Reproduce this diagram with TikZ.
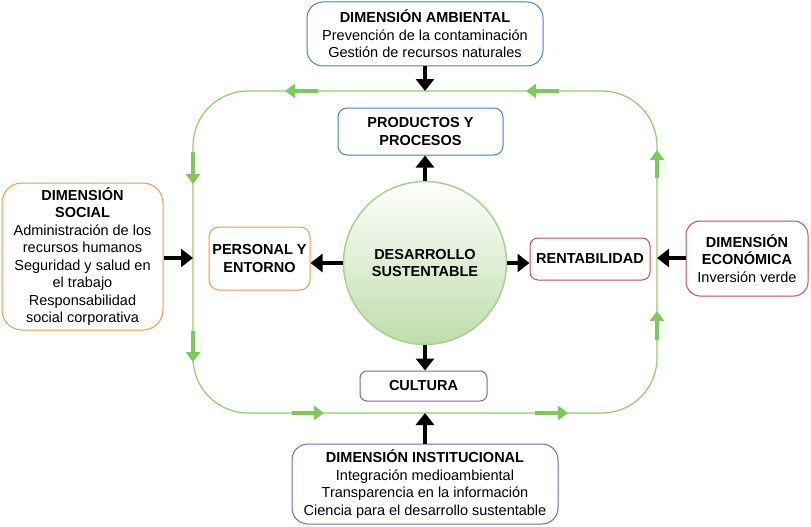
\documentclass[tikz,border=0pt]{standalone}
\usepackage{fontspec}
\setmainfont{Liberation Sans}
\usetikzlibrary{arrows.meta}
\definecolor{cblue}{HTML}{4A7FC8}
\definecolor{corange}{HTML}{F79646}
\definecolor{cred}{HTML}{C0504D}
\definecolor{cpurple}{HTML}{7F62B3}
\definecolor{cgreen}{HTML}{92CC6E}
\definecolor{cgarrow}{HTML}{7DC95E}
\definecolor{ccircle}{HTML}{A9D18E}
\tikzset{
  every node/.style={font=\fontsize{14.5}{17.5}\selectfont, inner sep=0pt},
  box/.style={draw, line width=1pt, rounded corners=#1, fill=white, align=center},
  box/.default=10pt,
  blk/.style={line width=4.5pt, -{Triangle[length=12pt,width=18pt]}},
  garrow/.style={line width=4pt, cgarrow, -{Triangle[length=10pt,width=14pt]}},
  loopline/.style={cgreen, line width=1.2pt},
}
\begin{document}
\begin{tikzpicture}[x=1pt,y=-1pt]
\useasboundingbox (0,0) rectangle (811,527);
% loop
\draw[loopline, rounded corners=55pt] (193,91) rectangle (657,413);
\coordinate (ltop) at (425,91);
\coordinate (lbot) at (425,413);
\coordinate (lleft) at (193,258);
\coordinate (lright) at (657,258);
% green flow arrows
\draw[garrow] (318,91) -- (285,91);
\draw[garrow] (559,91) -- (526,91);
\draw[garrow] (193,152) -- (193,184);
\draw[garrow] (193,331) -- (193,362);
\draw[garrow] (292,413) -- (324,413);
\draw[garrow] (535,413) -- (568,413);
\draw[garrow] (657,178) -- (657,150);
\draw[garrow] (657,340) -- (657,311);
% nodes
\node[box=16pt, draw=cblue, minimum width=236pt, minimum height=64pt] (amb) at (425,34)
  {\textbf{DIMENSIÓN AMBIENTAL}\\Prevención de la contaminación\\Gestión de recursos naturales};
\node[box=9pt, draw=cblue, minimum width=165pt, minimum height=47pt] (prod) at (420.5,131.5)
  {\textbf{PRODUCTOS Y}\\\textbf{PROCESOS}};
\node[circle, draw=ccircle, line width=1.5pt, minimum size=163pt, top color=white, bottom color=ccircle!75, align=center] (ds) at (425,263)
  {\textbf{DESARROLLO}\\\textbf{SUSTENTABLE}};
\node[box=10pt, draw=corange, minimum width=101pt, minimum height=63pt] (pers) at (259.5,258.5)
  {\textbf{PERSONAL Y}\\\textbf{ENTORNO}};
\node[box=8pt, draw=cred, minimum width=120pt, minimum height=42pt] (rent) at (590,259)
  {\textbf{RENTABILIDAD}};
\node[box=7pt, draw=cpurple, minimum width=127pt, minimum height=30pt] (cult) at (423.5,386)
  {\textbf{CULTURA}};
\node[box=20pt, draw=corange, minimum width=161pt, minimum height=147pt] (soc) at (82.5,256.5)
  {\textbf{DIMENSIÓN}\\\textbf{SOCIAL}\\Administración de los\\recursos humanos\\Seguridad y salud en\\el trabajo\\Responsabilidad\\social corporativa};
\node[box=14pt, draw=cred, minimum width=122pt, minimum height=75pt] (eco) at (747,258.5)
  {\textbf{DIMENSIÓN}\\\textbf{ECONÓMICA}\\Inversión verde};
\node[box=16pt, draw=cpurple, minimum width=266pt, minimum height=80pt] (inst) at (425,484)
  {\textbf{DIMENSIÓN INSTITUCIONAL}\\Integración medioambiental\\Transparencia en la información\\Ciencia para el desarrollo sustentable};
% black arrows
\draw[blk] (amb.south) -- (ltop);
\draw[blk] (ds.north) -- (ds.north |- prod.south);
\draw[blk] (ds.west) -- (ds.west -| pers.east);
\draw[blk] (ds.east) -- (ds.east -| rent.west);
\draw[blk] (ds.south) -- (ds.south |- cult.north);
\draw[blk] (inst.north) -- (lbot);
\draw[blk] (soc.east |- lleft) -- (lleft);
\draw[blk] (eco.west |- lright) -- (lright);
\end{tikzpicture}
\end{document}
